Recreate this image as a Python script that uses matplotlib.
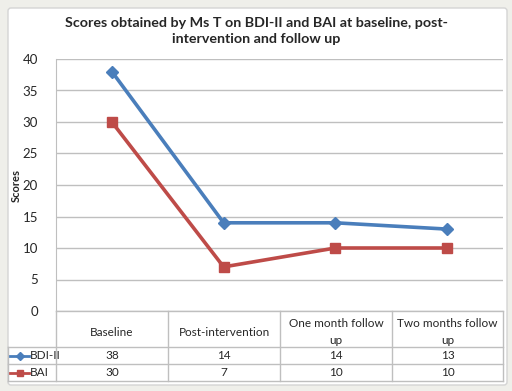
import numpy as np
import matplotlib
matplotlib.use("Agg")
import matplotlib.pyplot as plt
from matplotlib.patches import FancyBboxPatch

plt.rcParams['font.family'] = ['Lato', 'DejaVu Sans']

categories = ["Baseline", "Post-intervention", "One month follow\nup", "Two months follow\nup"]
series_names = ["BDI-II", "BAI"]
bdi = [38, 14, 14, 13]
bai = [30, 7, 10, 10]
yticks = [0, 5, 10, 15, 20, 25, 30, 35, 40]

BLUE = "#4a7ebb"
RED = "#be4b48"
GRID = "#bfbfbf"
TXT = "#262626"

W, H = 512, 391
fig = plt.figure(figsize=(W / 100, H / 100), dpi=100)
fig.patch.set_facecolor("#efefea")

# overlay in pixel coords for the frame and the data table
over = fig.add_axes([0, 0, 1, 1])
over.set_xlim(0, W)
over.set_ylim(H, 0)
over.axis("off")
over.add_patch(FancyBboxPatch((8, 8), 499, 377, boxstyle="round,pad=0,rounding_size=3",
                              facecolor="white", edgecolor="#d4d4d4", lw=1))

# main chart
ax_left, ax_right, ax_top, ax_bot = 56, 503, 59, 311
ax = fig.add_axes([ax_left / W, (H - ax_bot) / H, (ax_right - ax_left) / W, (ax_bot - ax_top) / H])
ax.set_facecolor("none")
x = np.arange(len(categories))
ax.plot(x, bdi, color=BLUE, lw=2.6, marker="D", ms=6, mfc=BLUE, mec=BLUE, zorder=3)
ax.plot(x, bai, color=RED, lw=2.6, marker="s", ms=7, mfc=RED, mec=RED, zorder=3)
ax.set_xlim(-0.5, len(categories) - 0.5)
ax.set_ylim(0, 40)
ax.set_yticks(yticks)
ax.yaxis.grid(True, color=GRID, lw=1)
ax.set_axisbelow(True)
ax.set_xticks([])
for s in ["top", "right", "bottom"]:
    ax.spines[s].set_visible(False)
ax.spines["left"].set_color(GRID)
ax.tick_params(axis="y", length=0, labelsize=9.5, labelcolor=TXT, pad=13)

fig.text(16 / W, 1 - 185 / H, "Scores", rotation=90, ha="center", va="center",
         fontsize=8, fontweight="bold", color=TXT)
fig.text(256 / W, 1 - 31 / H, "Scores obtained by Ms T on BDI-II and BAI at baseline, post-\nintervention and follow up",
         ha="center", va="center", fontsize=10.3, fontweight="bold", color=TXT, linespacing=1.45)

# data table
col_edges = [8, 56, 168, 280, 392, 503]
row_edges = [311, 347, 364, 381]
lc = "#bfbfbf"
over.plot([56, 503], [311, 311], color=lc, lw=1)
for y in row_edges[1:]:
    over.plot([8, 503], [y, y], color=lc, lw=1)
for i, xe in enumerate(col_edges):
    top = 311 if i >= 1 else row_edges[1]
    over.plot([xe, xe], [top, row_edges[-1]], color=lc, lw=1)

for i, cat in enumerate(categories):
    cx = (col_edges[i + 1] + col_edges[i + 2]) / 2
    over.text(cx, (row_edges[0] + row_edges[1]) / 2 + 3, cat, ha="center", va="center",
              fontsize=8.5, color=TXT, linespacing=1.6)
    over.text(cx, (row_edges[1] + row_edges[2]) / 2, str(bdi[i]), ha="center", va="center",
              fontsize=8.5, color=TXT)
    over.text(cx, (row_edges[2] + row_edges[3]) / 2, str(bai[i]), ha="center", va="center",
              fontsize=8.5, color=TXT)

for r, (name, col, mk, ms) in enumerate(zip(series_names, [BLUE, RED], ["D", "s"], [4, 5])):
    cy = (row_edges[r + 1] + row_edges[r + 2]) / 2
    over.plot([10, 29], [cy, cy], color=col, lw=2)
    over.plot([19.5], [cy], marker=mk, ms=ms, color=col)
    over.text(30, cy, name, ha="left", va="center", fontsize=8.5, color=TXT)

fig.savefig("out.png", dpi=100, facecolor=fig.get_facecolor())
